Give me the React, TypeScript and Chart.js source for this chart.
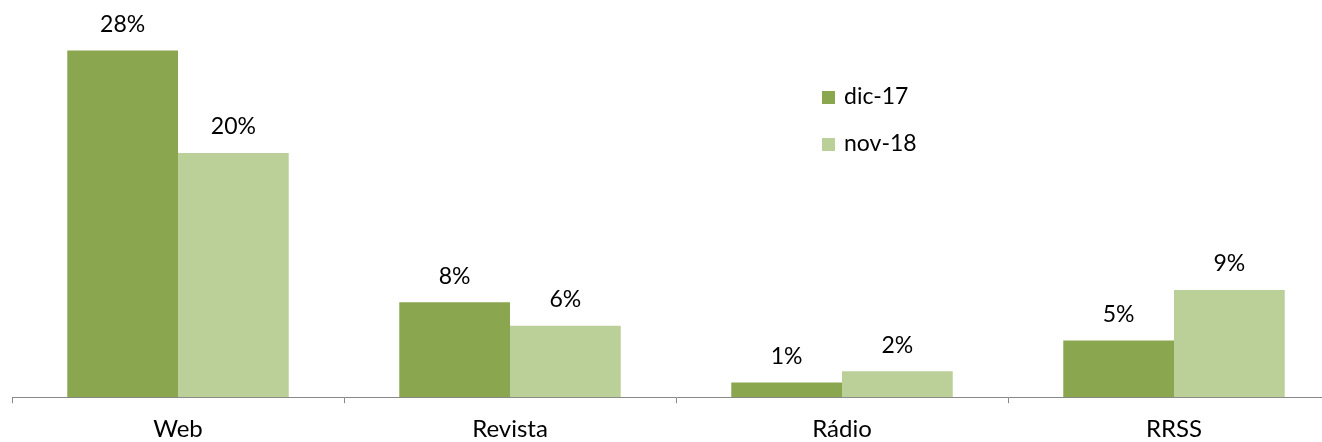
import React, { useEffect, useRef } from "react";
import { Chart, registerables } from "chart.js";

Chart.register(...registerables);

const categories = ["Web", "Revista", "Rádio", "RRSS"];
const seriesNames = ["dic-17", "nov-18"];
const dic17 = [28.1, 7.7, 1.2, 4.6];
const nov18 = [19.8, 5.8, 2.1, 8.7];
const colors = ["#8AA64F", "#BBCF98"];
const FONT = "Lato, 'Open Sans', sans-serif";

const labelPlugin = {
  id: "barLabels",
  afterDatasetsDraw(chart: any) {
    const ctx = chart.ctx;
    ctx.save();
    ctx.font = `23px ${FONT}`;
    ctx.fillStyle = "#000";
    ctx.textAlign = "center";
    ctx.textBaseline = "middle";
    chart.data.datasets.forEach((ds: any, i: number) => {
      const meta = chart.getDatasetMeta(i);
      meta.data.forEach((bar: any, j: number) => {
        const v = ds.data[j];
        ctx.fillText(Math.round(v) + "%", bar.x, bar.y - 26);
      });
    });
    ctx.restore();
  },
};

const legendPlugin = {
  id: "customLegend",
  afterDraw(chart: any) {
    const ctx = chart.ctx;
    ctx.save();
    ctx.font = `23px ${FONT}`;
    ctx.textBaseline = "middle";
    ctx.textAlign = "left";
    chart.data.datasets.forEach((ds: any, i: number) => {
      const y = 97 + i * 47;
      ctx.fillStyle = ds.backgroundColor;
      ctx.fillRect(822, y - 6, 13, 13);
      ctx.fillStyle = "#000";
      ctx.fillText(ds.label, 844, y);
    });
    ctx.restore();
  },
};

export default function App() {
  const ref = useRef<HTMLCanvasElement>(null);
  useEffect(() => {
    if (!ref.current) return;
    const chart = new Chart(ref.current, {
      type: "bar",
      data: {
        labels: categories,
        datasets: [
          { label: seriesNames[0], data: dic17, backgroundColor: colors[0] },
          { label: seriesNames[1], data: nov18, backgroundColor: colors[1] },
        ],
      },
      options: {
        responsive: false,
        animation: false,
        maintainAspectRatio: false,
        layout: { padding: { left: 12, right: 0, top: 0, bottom: 0 } },
        datasets: {
          bar: { categoryPercentage: 0.667, barPercentage: 1 },
        },
        plugins: {
          legend: { display: false },
          tooltip: { enabled: false },
        },
        scales: {
          x: {
            offset: true,
            grid: {
              offset: true,
              drawOnChartArea: false,
              drawTicks: true,
              tickLength: 6,
              color: "#888888",
            },
            border: { display: true, color: "#888888", width: 1 },
            ticks: {
              color: "#000",
              font: { family: FONT, size: 24 },
              padding: 12,
            },
          },
          y: {
            display: false,
            min: 0,
            max: 32.2,
          },
        },
      },
      plugins: [labelPlugin, legendPlugin],
    });
    return () => chart.destroy();
  }, []);
  return (
    <div style={{ position: "fixed", left: 0, top: 0, width: 1340, height: 456, overflow: "hidden" }}>
      <canvas ref={ref} width={1340} height={456} />
    </div>
  );
}
